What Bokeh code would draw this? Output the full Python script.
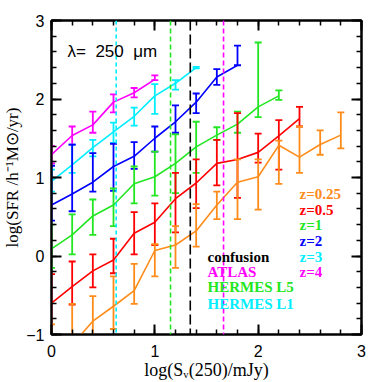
import numpy as np
from bokeh.plotting import figure
from bokeh.models import Span, Label, LinearAxis, FixedTicker, Range1d
from bokeh.embed import file_html
from bokeh.resources import INLINE

# ---------------- data ----------------
x_z4 = [0.0, 0.2, 0.4, 0.6, 0.8, 1.0]
y_z4 = [1.29, 1.535, 1.67, 1.96, 2.08, 2.25]
lo_z4 = [1.18, 1.42, 1.57, 1.83, 2.02, 2.24]
hi_z4 = [1.40, 1.65, 1.84, 2.06, 2.14, 2.30]

x_z3 = [0.0, 0.2, 0.4, 0.6, 0.8, 1.0, 1.2, 1.4]
y_z3 = [0.95, 1.16, 1.38, 1.58, 1.78, 2.04, 2.20, 2.40]
lo_z3 = [0.82, 1.06, 1.27, 1.44, 1.66, 1.81, 2.12, 2.39]
hi_z3 = [1.10, 1.42, 1.48, 1.70, 1.89, 2.19, 2.24, 2.41]

x_z2 = [0.0, 0.2, 0.4, 0.6, 0.8, 1.0, 1.2, 1.4, 1.6, 1.8]
y_z2 = [0.65, 0.79, 0.94, 1.14, 1.27, 1.50, 1.71, 1.96, 2.28, 2.43]
lo_z2 = [0.45, 0.57, 0.82, 0.83, 1.11, 1.33, 1.57, 1.82, 2.18, 2.43]
hi_z2 = [1.15, 1.42, 1.31, 1.43, 1.45, 1.65, 1.92, 2.07, 2.38, 2.68]

x_z1 = [0.0, 0.2, 0.4, 0.6, 0.8, 1.0, 1.2, 1.4, 1.6, 1.8, 2.0, 2.2]
y_z1 = [0.09, 0.27, 0.51, 0.65, 0.92, 1.01, 1.18, 1.39, 1.54, 1.68, 1.90, 2.04]
lo_z1 = [-0.15, 0.02, 0.27, 0.38, 0.67, 0.77, 0.80, 1.06, 1.48, 1.57, 1.77, 1.99]
hi_z1 = [0.40, 0.53, 0.72, 0.86, 1.14, 1.33, 1.55, 1.71, 1.64, 1.84, 2.72, 2.11]

x_z05 = [0.0, 0.2, 0.4, 0.6, 0.8, 1.0, 1.2, 1.4, 1.6, 1.8, 2.0, 2.2, 2.4]
y_z05 = [-0.60, -0.39, -0.19, -0.05, 0.29, 0.43, 0.73, 0.93, 1.18, 1.23, 1.32, 1.53, 1.75]
lo_z05 = [-1.05, -0.62, -0.40, -0.22, 0.02, 0.14, 0.30, 0.61, 0.90, 0.74, 1.19, 1.10, 1.65]
hi_z05 = [-0.23, -0.07, 0.02, 0.22, 0.56, 0.67, 1.06, 1.23, 1.48, 1.82, 1.56, 1.73, 1.90]

x_z025 = [0.0, 0.2, 0.4, 0.6, 0.8, 1.0, 1.2, 1.4, 1.6, 1.8, 2.0, 2.2, 2.4, 2.6, 2.8]
y_z025 = [-1.35, -1.13, -0.83, -0.64, -0.44, 0.07, 0.14, 0.32, 0.65, 0.94, 1.01, 1.41, 1.26, 1.42, 1.54]
lo_z025 = [-1.80, -1.60, -1.15, -0.93, -0.61, -0.26, -0.15, 0.12, 0.47, 0.47, 0.59, 0.92, 1.06, 1.29, 1.37]
hi_z025 = [-0.87, -0.61, -0.51, -0.26, -0.10, 0.15, 0.38, 0.66, 0.82, 1.23, 1.23, 1.47, 1.65, 1.60, 1.83]

z_labels = ["z=0.25", "z=0.5", "z=1", "z=2", "z=3", "z=4"]
z_colors = ["#FF8C1A", "#FF0000", "#22E622", "#0000FF", "#00EEFF", "#FF00FF"]

limit_names = ["confusion", "ATLAS", "HERMES L5", "HERMES L1"]
limit_values = [1.343, 1.665, 1.152, 0.626]
limit_colors = ["black", "#FF00FF", "#22E622", "#00EEFF"]
limit_dashes = ["10 4", "5 3", "5 3", "4 3"]

x_major = [0, 1, 2, 3]
y_major = [-1, 0, 1, 2, 3]

# ---------------- figure ----------------
p = figure(frame_width=310, frame_height=314, x_range=Range1d(0, 3), y_range=Range1d(-1, 3),
           output_backend="svg", toolbar_location=None,
           min_border_left=44, min_border_top=20, min_border_right=10, min_border_bottom=4)
p.xgrid.visible = False
p.ygrid.visible = False
p.background_fill_color = "white"
p.border_fill_color = "white"
p.outline_line_color = "black"
p.outline_line_width = 2

x_minor = [round(v, 2) for v in np.arange(0, 3.001, 0.2)]
y_minor = [round(v, 2) for v in np.arange(-1, 3.001, 0.2)]
xt = FixedTicker(ticks=x_major, minor_ticks=x_minor)
yt = FixedTicker(ticks=y_major, minor_ticks=y_minor)


def style_axis(ax):
    ax.axis_line_width = 2
    ax.major_tick_line_width = 2
    ax.minor_tick_line_width = 1.5
    ax.major_tick_in = 10
    ax.major_tick_out = 0
    ax.minor_tick_in = 5
    ax.minor_tick_out = 0


p.xaxis.ticker = xt
p.yaxis.ticker = yt
for ax in p.xaxis + p.yaxis:
    style_axis(ax)
    ax.major_label_text_font = "Liberation Sans"
    ax.major_label_text_font_size = "16px"
    ax.major_label_text_color = "black"
    ax.axis_label_text_font = "Liberation Serif"
    ax.axis_label_text_font_style = "normal"
    ax.axis_label_text_color = "black"

p.xaxis.axis_label = "log(Sᵥ(250)/mJy)"
p.yaxis.axis_label = "log(SFR /h⁻¹M⊙/yr)"
p.xaxis.axis_label_text_font_size = "18px"
p.yaxis.axis_label_text_font_size = "17px"
p.xaxis.major_label_standoff = 10
p.xaxis.axis_label_standoff = 0
p.yaxis.major_label_standoff = 7
p.yaxis.axis_label_standoff = 1
p.yaxis.major_label_overrides = {-1: "−1"}

for loc, tk, ticks in (("above", xt, x_major), ("right", yt, y_major)):
    ax = LinearAxis(ticker=tk, major_label_standoff=0,
                    major_label_overrides={t: "" for t in ticks})
    style_axis(ax)
    p.add_layout(ax, loc)

# ---------------- curves with error bars ----------------
series = [
    (x_z4, y_z4, lo_z4, hi_z4, z_colors[5]),
    (x_z3, y_z3, lo_z3, hi_z3, z_colors[4]),
    (x_z2, y_z2, lo_z2, hi_z2, z_colors[3]),
    (x_z1, y_z1, lo_z1, hi_z1, z_colors[2]),
    (x_z05, y_z05, lo_z05, hi_z05, z_colors[1]),
    (x_z025, y_z025, lo_z025, hi_z025, z_colors[0]),
]
for xs, ys, los, his, c in series:
    p.line(xs, ys, line_color=c, line_width=1.6)
    p.segment(xs, los, xs, his, line_color=c, line_width=1.8)
    p.scatter(xs, los, marker="dash", size=7, line_color=c, line_width=1.8)
    p.scatter(xs, his, marker="dash", size=7, line_color=c, line_width=1.8)

for v, c, d in zip(limit_values, limit_colors, limit_dashes):
    p.add_layout(Span(location=v, dimension="height", line_color=c, line_dash=d, line_width=1.6))

# ---------------- texts ----------------
p.add_layout(Label(x=0.155, y=2.61, text="λ=\u00a0 250\u00a0 μm", text_baseline="middle",
                   text_font="Liberation Sans", text_font_size="17px", text_color="black"))

z_text_y = [0.79, 0.59, 0.40, 0.19, -0.01, -0.21]
for t, c, yy in zip(z_labels, z_colors, z_text_y):
    p.add_layout(Label(x=2.40, y=yy, text=t, text_baseline="middle", text_color=c,
                       text_font="Liberation Serif", text_font_style="bold", text_font_size="15px"))

lim_text_y = [-0.01, -0.21, -0.40, -0.61]
for t, c, yy in zip(limit_names, limit_colors, lim_text_y):
    p.add_layout(Label(x=1.51, y=yy, text=t, text_baseline="middle", text_color=c,
                       text_font="Liberation Serif", text_font_style="bold", text_font_size="15px"))

open("out.html", "w").write(file_html(p, INLINE))
